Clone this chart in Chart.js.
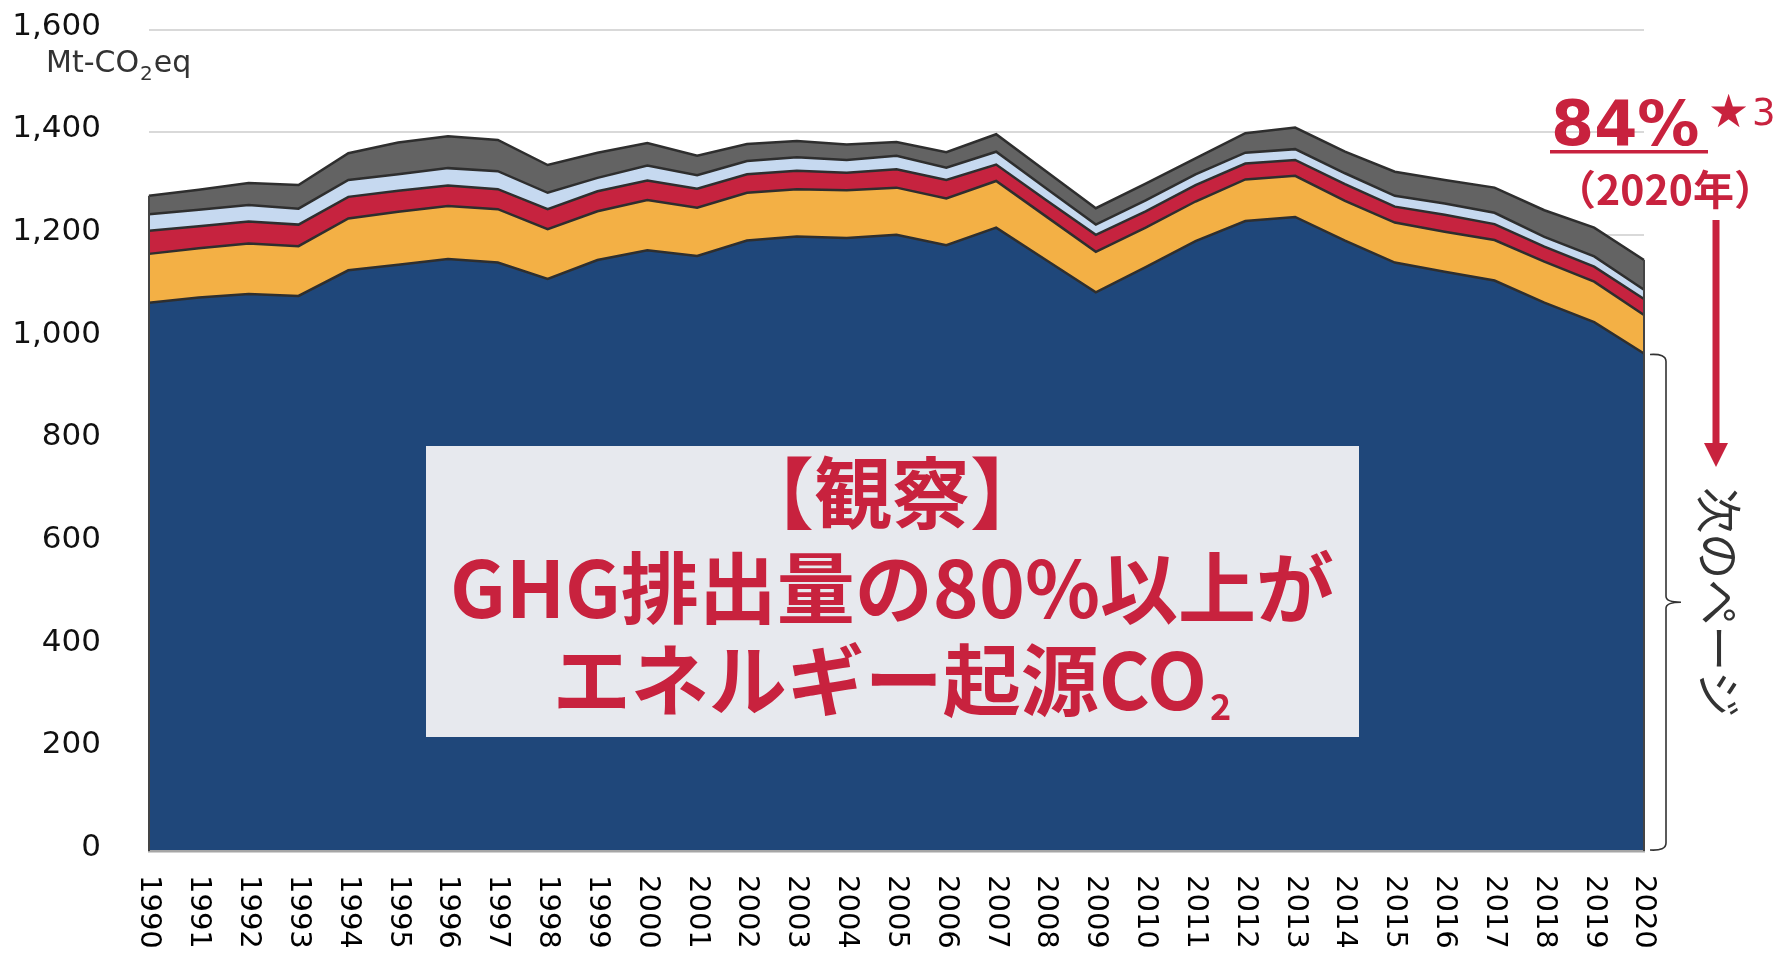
<!DOCTYPE html>
<html>
<head>
<meta charset="utf-8">
<script src="https://cdn.jsdelivr.net/npm/chart.js@4.4.0/dist/chart.umd.min.js"></script>
<style>
  html, body { margin: 0; padding: 0; background: #fff; }
  #wrap { width: 1783px; height: 955px; }
</style>
</head>
<body>
<div id="wrap"><canvas id="ghg"></canvas></div>
<script>
// GHG emissions by gas, Mt-CO2eq
const years = ['1990','1991','1992','1993','1994','1995','1996','1997','1998','1999',
  '2000','2001','2002','2003','2004','2005','2006','2007','2008','2009',
  '2010','2011','2012','2013','2014','2015','2016','2017','2018','2019','2020'];
const energyCO2 = [1068,1078,1085,1081,1131,1142,1153,1146,1114,1151,1170,1159,1189,1197,1194,1200,
  1180,1214,1151,1088,1137,1188,1227,1235,1189,1146,1128,1111,1068,1030,969];
const nonEnergyCO2 = [95,96,98,97,101,103,103,104,97,95,98,94,93,92,93,92,91,91,85,79,77,77,81,80,
  77,78,78,79,80,79,75];
const methane = [45,43,43,42,42,41,40,39,39,39,38,37,36,36,34,36,36,32,32,33,32,32,31,31,33,31,33,
  31,29,29,31];
const n2o = [32,32,32,31,33,32,34,35,32,26,29,26,26,26,25,26,24,25,23,20,21,21,21,21,21,21,22,22,
  19,20,18];
const fGases = [36,39,43,46,52,62,62,61,54,49,44,38,33,32,30,27,30,34,33,32,33,31,38,42,42,47,46,
  49,52,56,58];
const yMax = 1600;
const yStep = 200;

const RED = '#c8223e';
const EDGE = '#2e2e2e';

function layer(label, data, color, fill) {
  return {
    label, data, fill,
    backgroundColor: color,
    borderColor: EDGE,
    borderWidth: 2.5,
    pointRadius: 0,
    tension: 0
  };
}

// text, arrow and bracket drawn over the chart
const overlay = {
  id: 'overlay',
  afterDraw(chart) {
    const ctx = chart.ctx;
    const xs = chart.scales.x;
    const ys = chart.scales.y;
    const topMeta = chart.getDatasetMeta(chart.data.datasets.length - 1);
    const y0 = ys.getPixelForValue(0);
    const last = years.length - 1;

    ctx.save();
    // vertical edges of the stacked area
    ctx.strokeStyle = '#444';
    ctx.lineWidth = 2;
    [0, last].forEach(i => {
      const p = topMeta.data[i];
      ctx.beginPath();
      ctx.moveTo(p.x, p.y);
      ctx.lineTo(p.x, y0);
      ctx.stroke();
    });

    // unit
    ctx.fillStyle = '#333';
    ctx.textBaseline = 'alphabetic';
    ctx.textAlign = 'left';
    ctx.font = '30px "DejaVu Sans"';
    let ux = 46;
    ctx.fillText('Mt-CO', ux, 72);
    ux += ctx.measureText('Mt-CO').width + 1;
    ctx.font = '20px "DejaVu Sans"';
    ctx.fillText('2', ux, 80);
    ux += ctx.measureText('2').width + 1;
    ctx.font = '30px "DejaVu Sans"';
    ctx.fillText('eq', ux, 72);

    // year labels, reading downwards
    ctx.fillStyle = '#000';
    ctx.font = '29px "DejaVu Sans"';
    ctx.textBaseline = 'middle';
    years.forEach((yr, i) => {
      ctx.save();
      ctx.translate(xs.getPixelForValue(i), 875);
      ctx.rotate(Math.PI / 2);
      ctx.fillText(yr, 0, 0);
      ctx.restore();
    });

    // callout box
    ctx.fillStyle = '#e7e9ee';
    ctx.fillRect(426, 446, 933, 291);
    ctx.fillStyle = RED;
    ctx.textBaseline = 'alphabetic';
    ctx.textAlign = 'center';
    const cx = 892;
    ctx.font = 'bold 78px "Noto Sans CJK JP"';
    ctx.fillText('【観察】', cx, 523);
    ctx.fillText('GHG排出量の80%以上が', cx, 618);
    const l3 = 'エネルギー起源CO';
    const w3 = ctx.measureText(l3).width;
    ctx.font = 'bold 36px "Noto Sans CJK JP"';
    const ws = ctx.measureText('2').width;
    const sx = cx - (w3 + ws + 3) / 2;
    ctx.textAlign = 'left';
    ctx.font = 'bold 78px "Noto Sans CJK JP"';
    ctx.fillText(l3, sx, 710);
    ctx.font = 'bold 36px "Noto Sans CJK JP"';
    ctx.fillText('2', sx + w3 + 3, 720);

    // share of energy CO2 in the last year
    ctx.font = 'bold 62px "DejaVu Sans"';
    ctx.fillText('84%', 1551, 145);
    ctx.fillRect(1550, 150, 158, 3.5);
    ctx.font = 'bold 46px "DejaVu Sans"';
    ctx.fillText('★', 1708, 127);
    ctx.font = '37px "DejaVu Sans"';
    ctx.fillText('3', 1752, 125);
    ctx.textAlign = 'center';
    ctx.font = 'bold 41px "Noto Sans CJK JP"';
    ctx.fillText('（2020年）', 1665, 205);

    // arrow
    ctx.strokeStyle = RED;
    ctx.lineWidth = 7;
    ctx.beginPath();
    ctx.moveTo(1716, 220);
    ctx.lineTo(1716, 446);
    ctx.stroke();
    ctx.beginPath();
    ctx.moveTo(1704, 443);
    ctx.lineTo(1728, 443);
    ctx.lineTo(1716, 467);
    ctx.closePath();
    ctx.fill();

    // brace beside the energy CO2 part of the last year
    const bTop = ys.getPixelForValue(energyCO2[last]);
    const bBot = y0;
    const bMid = (bTop + bBot) / 2;
    const bx = 1666;
    ctx.strokeStyle = '#333';
    ctx.lineWidth = 1.6;
    ctx.beginPath();
    ctx.moveTo(1650, bTop + 1);
    ctx.quadraticCurveTo(bx, bTop, bx, bTop + 8);
    ctx.lineTo(bx, bMid - 6);
    ctx.quadraticCurveTo(bx, bMid, 1681, bMid);
    ctx.quadraticCurveTo(bx, bMid, bx, bMid + 6);
    ctx.lineTo(bx, bBot - 8);
    ctx.quadraticCurveTo(bx, bBot, 1650, bBot - 1);
    ctx.stroke();

    ctx.fillStyle = '#333';
    ctx.font = '46px "Noto Sans CJK JP"';
    ctx.textAlign = 'center';
    ctx.textBaseline = 'middle';
    ctx.save();
    ctx.translate(1719, bMid);
    ctx.rotate(Math.PI / 2);
    ctx.fillText('次のページ', 0, 0);
    ctx.restore();

    ctx.restore();
  }
};

new Chart(document.getElementById('ghg'), {
  type: 'line',
  data: {
    labels: years,
    datasets: [
      layer('エネルギー起源CO2', energyCO2, '#1f477a', 'origin'),
      layer('非エネルギー起源CO2', nonEnergyCO2, '#f3b045', '-1'),
      layer('CH4', methane, '#c6233f', '-1'),
      layer('N2O', n2o, '#c6d9f0', '-1'),
      layer('代替フロン等', fGases, '#636363', '-1')
    ]
  },
  options: {
    responsive: true,
    maintainAspectRatio: false,
    animation: false,
    devicePixelRatio: 1,
    layout: { padding: { top: 29.5, right: 139, bottom: 104, left: 0 } },
    plugins: {
      legend: { display: false },
      tooltip: { enabled: false }
    },
    scales: {
      x: {
        type: 'category',
        offset: false,
        afterFit: s => { s.height = 0; s.paddingLeft = 0; s.paddingRight = 0; },
        grid: { display: false },
        border: { display: true, color: '#a6a6a6', width: 2.5, z: 1 },
        ticks: { display: false }
      },
      y: {
        stacked: true,
        min: 0,
        max: yMax,
        afterFit: s => { s.width = 149; s.paddingTop = 0; s.paddingBottom = 0; },
        border: { display: false },
        grid: { color: '#d9d9d9', lineWidth: 2, drawTicks: false },
        ticks: {
          stepSize: yStep,
          padding: 48,
          labelOffset: -3,
          color: '#111',
          font: { family: 'DejaVu Sans', size: 31 },
          callback: v => v.toLocaleString('en-US')
        }
      }
    }
  },
  plugins: [overlay]
});
</script>
</body>
</html>
